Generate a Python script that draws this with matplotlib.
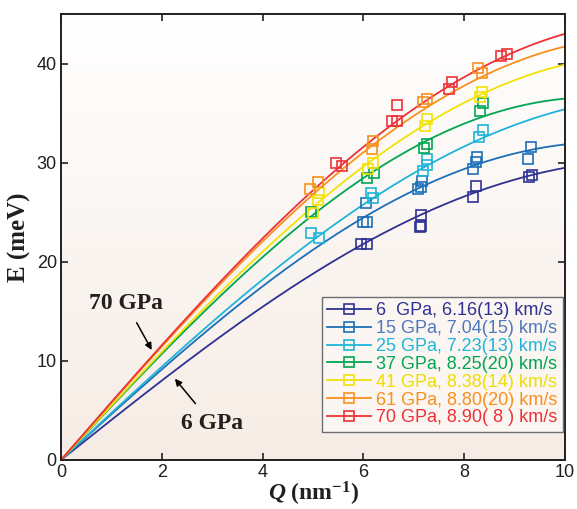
import numpy as np
import matplotlib
matplotlib.use('Agg')
import matplotlib.pyplot as plt
from matplotlib.colors import LinearSegmentedColormap

plt.rcParams['mathtext.fontset'] = 'custom'
plt.rcParams['mathtext.rm'] = 'Liberation Serif:bold'
plt.rcParams['mathtext.it'] = 'Liberation Serif:italic:bold'
plt.rcParams['mathtext.bf'] = 'Liberation Serif:bold'

# hbar * v * Q in meV, with v in km/s and Q in nm^-1
HBAR = 0.6582

labels = ['6  GPa, 6.16(13) km/s', '15 GPa, 7.04(15) km/s', '25 GPa, 7.23(13) km/s',
          '37 GPa, 8.25(20) km/s', '41 GPa, 8.38(14) km/s', '61 GPa, 8.80(20) km/s',
          '70 GPa, 8.90( 8 ) km/s']
colors = ['#2e3192', '#1c6fb8', '#1fb4d9', '#00a651', '#f2e205', '#f7901e', '#ec3237']
text_colors = ['#2e3192', '#4f78bd', '#1fb4d9', '#00a651', '#eedd00', '#f7901e', '#ec3237']
velocity = [6.16, 7.04, 7.23, 8.25, 8.38, 8.80, 8.90]
e_max = [30.3, 32.1, 36.8, 36.6, 40.9, 42.7, 44.4]

q_6 = [5.95, 6.08, 7.12, 7.15, 7.15, 8.18, 8.24, 9.28, 9.35]
e_6 = [21.8, 21.8, 23.5, 23.6, 24.7, 26.5, 27.6, 28.6, 28.8]
q_15 = [5.99, 6.08, 6.06, 7.08, 7.15, 7.17, 8.17, 8.23, 8.25, 9.27, 9.33]
e_15 = [24.0, 24.0, 25.9, 27.3, 27.5, 28.1, 29.4, 30.1, 30.6, 30.4, 31.6]
q_25 = [4.97, 5.11, 6.16, 6.19, 7.19, 7.26, 7.27, 8.30, 8.37]
e_25 = [22.9, 22.4, 26.9, 26.4, 29.2, 29.8, 30.4, 32.6, 33.3]
q_37 = [4.97, 6.08, 6.21, 7.21, 7.27, 8.31, 8.37]
e_37 = [25.0, 28.5, 29.0, 31.5, 31.9, 35.2, 36.0]
q_41 = [5.00, 5.10, 5.12, 6.09, 6.19, 7.22, 7.26, 8.31, 8.36]
e_41 = [24.9, 26.2, 26.9, 29.4, 30.0, 33.7, 34.4, 36.6, 37.1]
q_61 = [4.94, 5.09, 6.18, 6.20, 7.19, 7.26, 8.28, 8.35]
e_61 = [27.3, 28.0, 31.4, 32.2, 36.1, 36.4, 39.6, 39.0]
q_70 = [5.46, 5.58, 6.56, 6.66, 6.66, 7.69, 7.75, 8.74, 8.84]
e_70 = [30.0, 29.7, 34.2, 34.2, 35.8, 37.4, 38.1, 40.8, 41.0]

q_data = [q_6, q_15, q_25, q_37, q_41, q_61, q_70]
e_data = [e_6, e_15, e_25, e_37, e_41, e_61, e_70]

sans = ['Liberation Sans', 'DejaVu Sans']
serif = ['Liberation Serif', 'DejaVu Serif']
dark = '#231f20'

fig = plt.figure(figsize=(5.77, 5.09), dpi=100)
ax = fig.add_axes([0.1057, 0.0963, 0.8735, 0.8762])

# light gradient background
bg = LinearSegmentedColormap.from_list('bg', ['#ffffff', '#f6ece5'])
ax.imshow(np.linspace(0, 1, 256).reshape(-1, 1), cmap=bg, extent=[0, 1, 0, 1],
          transform=ax.transAxes, aspect='auto', zorder=0)

q = np.linspace(0, 10, 400)
for i in range(len(labels)):
    A = e_max[i]
    s = HBAR * velocity[i]
    ax.plot(q, A * np.sin(s * q / A), color=colors[i], lw=1.3, zorder=2)
    ax.plot(q_data[i], e_data[i], 's', mfc='none', mec=colors[i], ms=6.5, mew=1.2, zorder=3)
    # legend handle
    ax.plot([], [], '-s', color=colors[i], mfc='none', mec=colors[i], ms=6.5, mew=1.2,
            lw=1.3, label=labels[i])

ax.set_xlim(0, 10)
ax.set_ylim(0, 45)
ax.set_xticks([0, 2, 4, 6, 8, 10])
ax.set_yticks([0, 10, 20, 30, 40])
ax.tick_params(direction='in', length=5, width=1.2, top=True, right=True,
               labelsize=13, colors=dark, pad=3)
for lab in ax.get_xticklabels() + ax.get_yticklabels():
    lab.set_family(sans)
for sp in ax.spines.values():
    sp.set_linewidth(1.4)
    sp.set_color(dark)

ax.set_xlabel(r'$\mathit{Q}$ (nm$^{-1}$)', fontsize=17, fontweight='bold',
              family=serif, color=dark, labelpad=-1)
ax.set_ylabel('E (meV)', fontsize=18, fontweight='bold', family=serif, color=dark, labelpad=4)

ax.annotate('70 GPa', xy=(1.80, 11.1), xytext=(1.29, 15.8), ha='center', va='center',
            fontsize=17, fontweight='bold', family=serif, color=dark,
            arrowprops=dict(arrowstyle='-|>', color='black', lw=1.1, shrinkA=5, shrinkB=0,
                            mutation_scale=10))
ax.annotate('6 GPa', xy=(2.26, 8.2), xytext=(2.99, 3.7), ha='center', va='center',
            fontsize=17, fontweight='bold', family=serif, color=dark,
            arrowprops=dict(arrowstyle='-|>', color='black', lw=1.1, shrinkA=6, shrinkB=0,
                            mutation_scale=10))

leg = ax.legend(loc='lower right', bbox_to_anchor=(0.996, 0.063), borderaxespad=0,
                prop={'family': sans, 'size': 13}, labelspacing=0.05, handlelength=2.4,
                handletextpad=0.3, borderpad=0.3, fancybox=False, framealpha=1,
                facecolor='#fbf6f2', edgecolor='#6d6e71')
leg.get_frame().set_linewidth(1.0)
for txt, c in zip(leg.get_texts(), text_colors):
    txt.set_color(c)

fig.savefig('out.png', dpi=100)
